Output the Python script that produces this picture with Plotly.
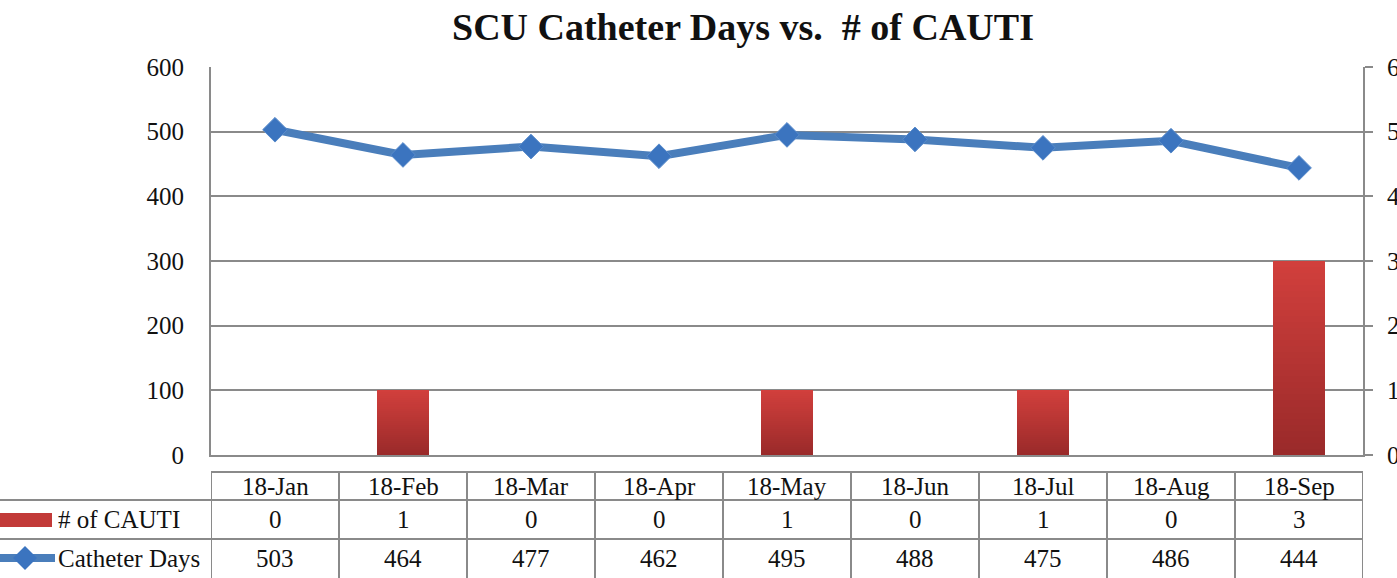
import plotly.graph_objects as go

months = ["18-Jan", "18-Feb", "18-Mar", "18-Apr", "18-May", "18-Jun", "18-Jul", "18-Aug", "18-Sep"]
cauti = [0, 1, 0, 0, 1, 0, 1, 0, 3]
catheter_days = [503, 464, 477, 462, 495, 488, 475, 486, 444]
series_names = ["# of CAUTI", "Catheter Days"]

W, H = 1397, 578
L, R, T, B = 211, 34, 67, 123
PW, PH = W - L - R, H - T - B
FONT = "Liberation Serif"
GRID = "#8a8a8a"
FS = 25


def px_x(p):
    return (p - L) / PW


def px_y(p):
    return (H - B - p) / PH


fig = go.Figure()

# gradient bars built as stacked slices of each value
N = 32
top = (0xD1, 0x3F, 0x3C)
bot = (0x9A, 0x2A, 0x2A)
for k in range(N):
    t = k / (N - 1)
    c = tuple(int(round(bot[i] + (top[i] - bot[i]) * t)) for i in range(3))
    fig.add_trace(go.Bar(
        x=list(range(len(months))), y=[v / N for v in cauti], yaxis="y",
        marker=dict(color="rgb(%d,%d,%d)" % c, line=dict(width=0)),
        width=0.41, showlegend=False, hoverinfo="skip",
    ))

fig.add_trace(go.Scatter(
    x=list(range(len(months))), y=catheter_days, yaxis="y2", mode="lines+markers",
    line=dict(color="#4A7EBB", width=8),
    marker=dict(symbol="diamond", size=19, color="#3B74BF", line=dict(color="#5A8CCB", width=1)),
    name=series_names[1], showlegend=False,
))

shapes = []
ann = []
# table lines
y_top, y_r1, y_r2, y_bot = px_y(472), px_y(500), px_y(539), px_y(578)
shapes.append(dict(type="line", xref="x", yref="paper", x0=-0.5, x1=len(months) - 0.5,
                   y0=y_top, y1=y_top, line=dict(color=GRID, width=2)))
for yy in (y_r1, y_r2):
    shapes.append(dict(type="line", xref="paper", yref="paper", x0=px_x(0), x1=1,
                       y0=yy, y1=yy, line=dict(color=GRID, width=2)))
for i in range(len(months) + 1):
    shapes.append(dict(type="line", xref="x", yref="paper", x0=i - 0.5, x1=i - 0.5,
                       y0=y_top, y1=y_bot, line=dict(color=GRID, width=2)))

# table text
rc = [(y_top + y_r1) / 2, (y_r1 + y_r2) / 2, (y_r2 + y_bot) / 2]
tf = dict(family=FONT, size=FS, color="#111")
for i, m in enumerate(months):
    for row, val in enumerate([m, str(cauti[i]), str(catheter_days[i])]):
        ann.append(dict(x=i, y=rc[row], xref="x", yref="paper", text=val, showarrow=False,
                        xanchor="center", yanchor="middle", font=tf))
for j, nm in enumerate(series_names):
    ann.append(dict(x=px_x(56), y=rc[1 + j], xref="paper", yref="paper", text=nm, showarrow=False,
                    xanchor="left", yanchor="middle", font=tf))

# legend keys
shapes.append(dict(type="rect", xref="paper", yref="paper", x0=px_x(0), x1=px_x(52),
                   y0=px_y(527), y1=px_y(513), fillcolor="#C23A38", line=dict(width=0)))
shapes.append(dict(type="line", xref="paper", yref="paper", x0=px_x(0), x1=px_x(55),
                   y0=px_y(558), y1=px_y(558), line=dict(color="#4A7EBB", width=8)))
cx, cy, r = 25, 558, 12
shapes.append(dict(type="path", xref="paper", yref="paper",
                   path="M %f %f L %f %f L %f %f L %f %f Z" % (
                       px_x(cx - r), px_y(cy), px_x(cx), px_y(cy - r),
                       px_x(cx + r), px_y(cy), px_x(cx), px_y(cy + r)),
                   fillcolor="#3B74BF", line=dict(width=0)))

ann.append(dict(x=px_x(743), y=px_y(27), xref="paper", yref="paper", xanchor="center", yanchor="middle",
                text="<b>SCU Catheter Days vs.  # of CAUTI</b>", showarrow=False,
                font=dict(family=FONT, size=38, color="#111")))

fig.update_layout(
    width=W, height=H, autosize=False, margin=dict(l=L, r=R, t=T, b=B, autoexpand=False),
    paper_bgcolor="white", plot_bgcolor="white",
    barmode="stack", showlegend=False,
    shapes=shapes, annotations=ann,
    xaxis=dict(range=[-0.5, len(months) - 0.5], showticklabels=False, showgrid=False,
               zeroline=False, showline=True, linecolor=GRID, linewidth=2, fixedrange=True,
               automargin=False),
    yaxis=dict(range=[0, 6], dtick=1, side="right", showgrid=True, gridcolor=GRID, gridwidth=2,
               showline=True, linecolor=GRID, linewidth=2, ticks="outside", ticklen=8,
               tickcolor=GRID, tickwidth=2, zeroline=False, automargin=False,
               tickfont=tf, ticklabelstandoff=9),
    yaxis2=dict(range=[0, 600], dtick=100, side="left", overlaying="y", showgrid=False,
                showline=True, linecolor=GRID, linewidth=2, zeroline=False, ticks="",
                automargin=False, tickfont=tf, ticklabelstandoff=20),
)

post = (
    "document.documentElement.style.overflow='hidden';"
    "document.body.style.margin='0px';document.body.style.overflow='hidden';"
)
fig.write_html("out.html", post_script=post,
               config={"responsive": False, "displayModeBar": False})
